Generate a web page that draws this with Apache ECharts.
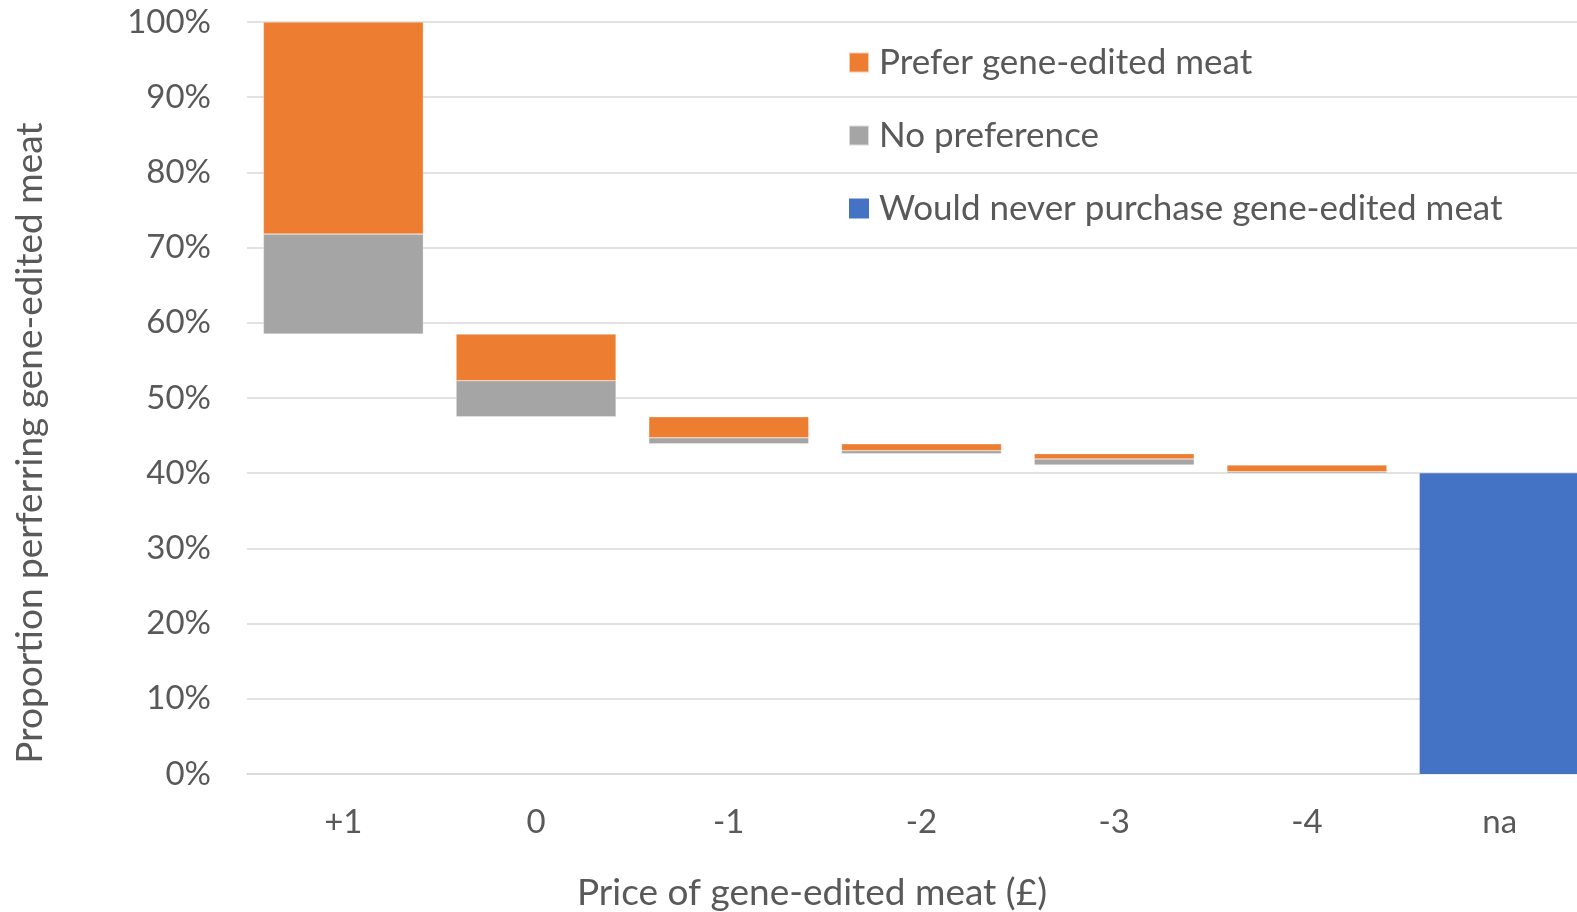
<!DOCTYPE html>
<html><head><meta charset="utf-8">
<script src="https://cdn.jsdelivr.net/npm/echarts@6/dist/echarts.min.js"></script>
<style>html,body{margin:0;padding:0;background:#fff}#c{width:1577px;height:912px}</style>
</head><body><div id="c"></div>
<script>
const categories = ['+1', '0', '-1', '-2', '-3', '-4', 'na'];
const baseValues = [58.5, 47.5, 43.9, 42.6, 41.1, 40.0, 0];
const noPreference = [13.3, 4.8, 0.8, 0.4, 0.8, 0.2, 0];
const preferGE = [28.2, 6.2, 2.8, 0.9, 0.7, 0.9, 0];
const neverPurchase = [0, 0, 0, 0, 0, 0, 40.0];
const yTicks = [0, 10, 20, 30, 40, 50, 60, 70, 80, 90, 100];

const txt = '#595959';
const font = 'Lato';
const chart = echarts.init(document.getElementById('c'));
chart.setOption({
  animation: false,
  textStyle: { fontFamily: font },
  grid: { left: 247, width: 1349, top: 22, height: 752, containLabel: false, outerBoundsMode: 'none' },
  legend: {
    orient: 'vertical', left: 843, top: 40, itemGap: 38,
    itemWidth: 20, itemHeight: 20, icon: 'rect',
    textStyle: { fontSize: 35, color: txt, fontFamily: font, padding: [0, 0, 0, 5] },
    data: ['Prefer gene-edited meat', 'No preference', 'Would never purchase gene-edited meat']
  },
  xAxis: {
    type: 'category', data: categories,
    axisLine: { show: true, lineStyle: { color: '#d9d9d9', width: 1.5 } },
    axisTick: { show: false },
    axisLabel: { fontSize: 33, color: txt, margin: 32, fontFamily: font }
  },
  yAxis: {
    type: 'value', min: 0, max: 100, interval: 10,
    axisLine: { show: false }, axisTick: { show: false },
    splitLine: { lineStyle: { color: '#d9d9d9', width: 1.5 } },
    axisLabel: { fontSize: 33, color: txt, margin: 36, fontFamily: font,
      formatter: v => yTicks.includes(v) ? v + '%' : '' }
  },
  graphic: [
    { type: 'text', x: 812, y: 893, style: { text: 'Price of gene-edited meat (£)', fontSize: 37, fill: txt, fontFamily: font, textAlign: 'center', textVerticalAlign: 'middle' } },
    { type: 'text', x: 30, y: 443, rotation: Math.PI / 2, style: { text: 'Proportion perferring gene-edited meat', fontSize: 37, fill: txt, fontFamily: font, textAlign: 'center', textVerticalAlign: 'middle' } }
  ],
  series: [
    { name: 'base', type: 'bar', stack: 'w', data: baseValues, barCategoryGap: '17%',
      itemStyle: { color: 'transparent' }, silent: true },
    { name: 'No preference', type: 'bar', stack: 'w', data: noPreference,
      itemStyle: { color: '#a5a5a5', borderColor: 'rgba(255,255,255,0.6)', borderWidth: 0.5 } },
    { name: 'Prefer gene-edited meat', type: 'bar', stack: 'w', data: preferGE,
      itemStyle: { color: '#ed7d31', borderColor: 'rgba(255,255,255,0.6)', borderWidth: 0.5 } },
    { name: 'Would never purchase gene-edited meat', type: 'bar', stack: 'w', data: neverPurchase,
      itemStyle: { color: '#4472c4' } }
  ]
});
</script></body></html>
